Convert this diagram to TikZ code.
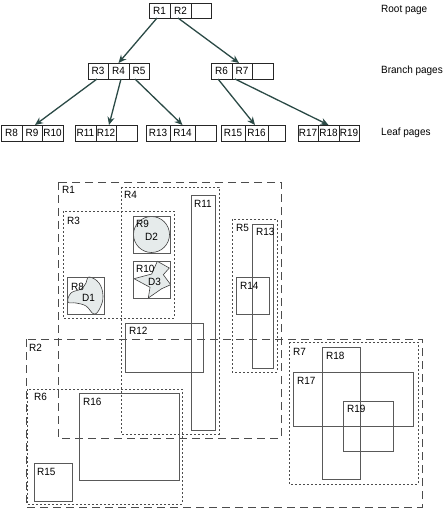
\documentclass[tikz,border=0pt]{standalone}
\usepackage{fontspec}
\setmainfont[FakeStretch=0.95]{Liberation Sans}
\usetikzlibrary{arrows.meta,calc}
\definecolor{arrowc}{HTML}{2B4A46}
\definecolor{blobfill}{HTML}{E6EBEB}
\begin{document}
\begin{tikzpicture}[x=1pt,y=-1pt,
  txt/.style={font=\fontsize{10.5}{10.5}\selectfont, inner sep=0pt},
  cell/.style={draw=black!85, line width=0.7pt, minimum height=15pt, inner sep=0pt, outer sep=0pt, font=\fontsize{10.5}{10.5}\selectfont},
  leafcell/.style={cell, minimum height=16pt},
  link/.style={draw=arrowc, line width=1.3pt, -{Stealth[length=8pt,width=7pt]}},
  pagelabel/.style={txt, anchor=west},
  rlabel/.style={txt, anchor=west},
  longdash/.style={draw=black!70, line width=0.8pt, dash pattern=on 8pt off 5pt},
  shortdash/.style={draw=black!70, line width=0.8pt, dash pattern=on 2pt off 2pt},
  solidbox/.style={draw=black!65, line width=0.8pt},
  blob/.style={draw=black!75, line width=0.6pt, fill=blobfill}
]
\useasboundingbox (0,0) rectangle (444,510);

% ---------- tree ----------
% root
\node[cell, minimum width=21pt] (r1) at (159.5,10.5) {R1};
\node[cell, minimum width=21pt] (r2) at (180.5,10.5) {R2};
\node[cell, minimum width=20pt] (re) at (201,10.5) {};
% branch left
\node[leafcell, minimum width=20pt] (r3) at (98,71) {R3};
\node[leafcell, minimum width=21pt] (r4) at (118.5,71) {R4};
\node[leafcell, minimum width=20pt] (r5) at (139,71) {R5};
% branch right
\node[leafcell, minimum width=21pt] (r6) at (221.5,71) {R6};
\node[leafcell, minimum width=20pt] (r7) at (242,71) {R7};
\node[leafcell, minimum width=21pt] (rbe) at (262.5,71) {};
% leaves
\node[leafcell, minimum width=21pt] (r8) at (11.5,133) {R8};
\node[leafcell, minimum width=20pt] (r9) at (32,133) {R9};
\node[leafcell, minimum width=21pt] (r10) at (52.5,133) {R10};
\node[leafcell, minimum width=21pt] (r11) at (85.5,133) {R11};
\node[leafcell, minimum width=20pt] (r12) at (106,133) {R12};
\node[leafcell, minimum width=21pt] (l2e) at (126.5,133) {};
\node[leafcell, minimum width=24pt] (r13) at (158,133) {R13};
\node[leafcell, minimum width=25pt] (r14) at (182.5,133) {R14};
\node[leafcell, minimum width=21pt] (l3e) at (205.5,133) {};
\node[leafcell, minimum width=24pt] (r15) at (233,133) {R15};
\node[leafcell, minimum width=23pt] (r16) at (256.5,133) {R16};
\node[leafcell, minimum width=17pt] (l4e) at (276.5,133) {};
\node[leafcell, minimum width=20pt] (r17) at (308,133) {R17};
\node[leafcell, minimum width=21pt] (r18) at (328.5,133) {R18};
\node[leafcell, minimum width=20pt] (r19) at (349,133) {R19};

\node[pagelabel] (lroot) at (381,10) {Root page};
\node[pagelabel] (lbranch) at (381,71) {Branch pages};
\node[pagelabel] (lleaf) at (381,133) {Leaf pages};

% arrows
\draw[link] ([xshift=-2.5pt]r1.south) -- (r4.north);
\draw[link] ([xshift=-2.5pt]r2.south) -- ([xshift=-3pt]r7.north);
\draw[link] ([xshift=-1pt]r3.south) -- ([xshift=3pt]r9.north);
\draw[link] ([xshift=2.5pt]r4.south) -- ([xshift=3pt]r12.north);
\draw[link] ([xshift=-4pt]r5.south) -- (r14.north);
\draw[link] ([xshift=-3.5pt]r6.south) -- ([xshift=-1.5pt]r16.north);
\draw[link] ([xshift=-7pt]r7.south) -- (r18.north);

% ---------- spatial layout ----------
% blobs
\fill[blob] (151.5,234.5) circle (18);
\draw[blob] (157.3,261.3) -- (169.3,268) -- (163.3,274.7) -- (170.7,284.7) -- (161.7,288.7)
  -- (148.3,298) -- (150,287.3) -- (134,278.7) -- (151.7,274) -- cycle;
\draw[blob] plot[smooth cycle, tension=0.7] coordinates {(89,277) (99,283) (103,296) (100,308) (94,314) (86,306) (76,303) (68,302) (71,293) (81,289) (86,283)};

% dashed regions
\draw[longdash] (58,182) rectangle (281,438);
\draw[longdash] (26,339) rectangle (422,507);
\draw[shortdash] (63,211) rectangle (174,318);
\draw[shortdash] (121,187) rectangle (219,434);
\draw[shortdash] (232,219) rectangle (277,372);
\draw[shortdash] (27,389) rectangle (182,504);
\draw[shortdash] (289,342) rectangle (418,484);

% solid rectangles
\draw[solidbox] (67,277) rectangle (104,314);
\draw[solidbox] (133,216) rectangle (170,253);
\draw[solidbox] (133,261) rectangle (170,298);
\draw[solidbox] (191,195) rectangle (215,430);
\draw[solidbox] (125,323) rectangle (203,372);
\draw[solidbox] (252,224) rectangle (273,368);
\draw[solidbox] (236,277) rectangle (269,314);
\draw[solidbox] (34,463) rectangle (72,501);
\draw[solidbox] (79,393) rectangle (179,480);
\draw[solidbox] (293,372) rectangle (413,426);
\draw[solidbox] (322,347) rectangle (360,479);
\draw[solidbox] (343,401) rectangle (393,451);

% labels
\node[rlabel] (tR1) at (62,190) {R1};
\node[rlabel] (tR4) at (124,195) {R4};
\node[rlabel] (tR3) at (67,221) {R3};
\node[rlabel] (tR11) at (194,204) {R11};
\node[rlabel] (tR9) at (136,224) {R9};
\node[rlabel] (tD2) at (145,237) {D2};
\node[rlabel] (tR10) at (136,269) {R10};
\node[rlabel] (tD3) at (148,282) {D3};
\node[rlabel] (tR8) at (71,287) {R8};
\node[rlabel] (tD1) at (82,298) {D1};
\node[rlabel] (tR12) at (129,331) {R12};
\node[rlabel] (tR5) at (236,228) {R5};
\node[rlabel] (tR13) at (256,232) {R13};
\node[rlabel] (tR14) at (240,286) {R14};
\node[rlabel] (tR2) at (29,348) {R2};
\node[rlabel] (tR6) at (34,397) {R6};
\node[rlabel] (tR16) at (83,402) {R16};
\node[rlabel] (tR15) at (37,472) {R15};
\node[rlabel] (tR7) at (293,352) {R7};
\node[rlabel] (tR18) at (326,356) {R18};
\node[rlabel] (tR17) at (297,381) {R17};
\node[rlabel] (tR19) at (347,409) {R19};
\end{tikzpicture}
\end{document}
